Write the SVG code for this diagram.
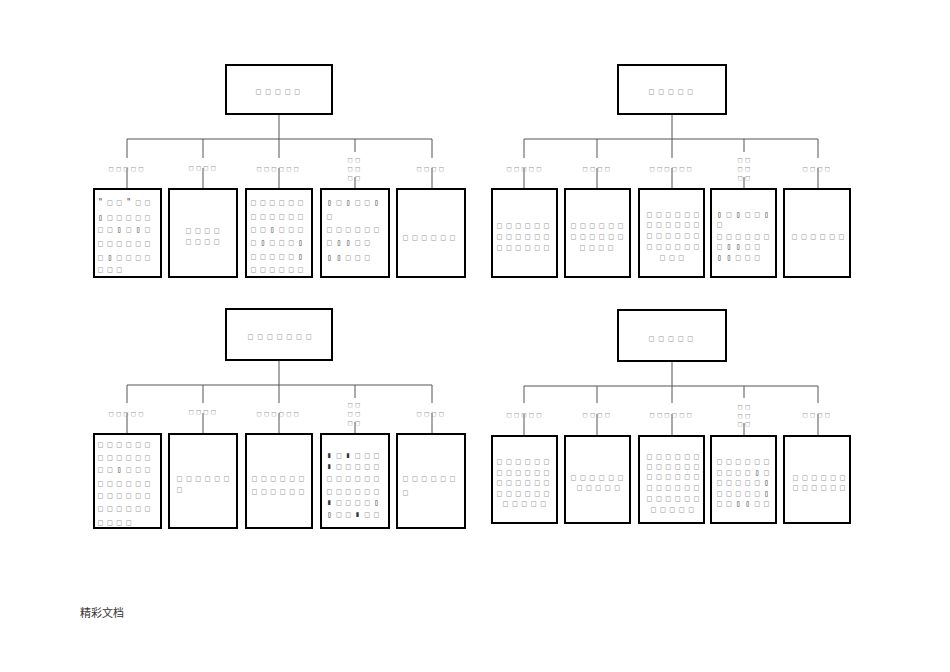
<svg xmlns="http://www.w3.org/2000/svg" width="950" height="672" viewBox="0 0 950 672">
<style>
.bx{fill:#fff;stroke:#000;stroke-width:2}
.cn line{stroke:#555;stroke-width:1}
text{font-family:"DejaVu Sans Mono","Liberation Mono",monospace;fill:#999}
.h{font-size:8px;letter-spacing:4.9px}
.l{font-size:7px;letter-spacing:3.2px}
.b{font-size:8px;letter-spacing:4.6px}
.d{fill:#333}
.f{font-family:"Noto Sans CJK SC",sans-serif;font-size:11px;fill:#333;letter-spacing:0}
</style>
<rect width="950" height="672" fill="#fff"/>
<g class="cn" id="connectors">
<line x1="279" y1="114" x2="279" y2="139"/><line x1="127" y1="139" x2="432" y2="139"/>
<line x1="127" y1="139" x2="127" y2="158"/><line x1="203" y1="139" x2="203" y2="158"/><line x1="279" y1="139" x2="279" y2="158"/><line x1="355" y1="139" x2="355" y2="152"/><line x1="432" y1="139" x2="432" y2="158"/>
<line x1="127" y1="168" x2="127" y2="189"/><line x1="203" y1="168" x2="203" y2="189"/><line x1="279" y1="168" x2="279" y2="189"/><line x1="355" y1="177" x2="355" y2="189"/><line x1="432" y1="168" x2="432" y2="189"/>
<line x1="672" y1="114" x2="672" y2="139"/><line x1="524" y1="139" x2="818" y2="139"/>
<line x1="524" y1="139" x2="524" y2="158"/><line x1="597" y1="139" x2="597" y2="158"/><line x1="672" y1="139" x2="672" y2="158"/><line x1="744" y1="139" x2="744" y2="152"/><line x1="818" y1="139" x2="818" y2="158"/>
<line x1="524" y1="168" x2="524" y2="189"/><line x1="597" y1="168" x2="597" y2="189"/><line x1="672" y1="168" x2="672" y2="189"/><line x1="744" y1="177" x2="744" y2="189"/><line x1="818" y1="168" x2="818" y2="189"/>
<line x1="279" y1="360" x2="279" y2="385"/><line x1="127" y1="385" x2="432" y2="385"/>
<line x1="127" y1="385" x2="127" y2="403"/><line x1="203" y1="385" x2="203" y2="403"/><line x1="279" y1="385" x2="279" y2="403"/><line x1="355" y1="385" x2="355" y2="398"/><line x1="432" y1="385" x2="432" y2="403"/>
<line x1="127" y1="413" x2="127" y2="434"/><line x1="203" y1="413" x2="203" y2="434"/><line x1="279" y1="413" x2="279" y2="434"/><line x1="355" y1="422" x2="355" y2="434"/><line x1="432" y1="413" x2="432" y2="434"/>
<line x1="672" y1="361" x2="672" y2="386"/><line x1="524" y1="386" x2="818" y2="386"/>
<line x1="524" y1="386" x2="524" y2="403"/><line x1="597" y1="386" x2="597" y2="403"/><line x1="672" y1="386" x2="672" y2="403"/><line x1="744" y1="386" x2="744" y2="398"/><line x1="818" y1="386" x2="818" y2="403"/>
<line x1="524" y1="414" x2="524" y2="436"/><line x1="597" y1="414" x2="597" y2="436"/><line x1="672" y1="414" x2="672" y2="436"/><line x1="744" y1="423" x2="744" y2="436"/><line x1="818" y1="414" x2="818" y2="436"/>
</g>
<g id="labels">
<text class="l" x="109" y="170.5">□□□□□</text><text class="l" x="189" y="169.5">□□□□</text><text class="l" x="257" y="170.5">□□□□□□</text>
<text class="l" x="348" y="161.5">□□</text><text class="l" x="348" y="170.5">□□</text><text class="l" x="348" y="179.5">□□</text><text class="l" x="417" y="170.5">□□□□</text>
<text class="l" x="507" y="170.5">□□□□□</text><text class="l" x="583" y="170.5">□□□□</text><text class="l" x="650" y="170.5">□□□□□□</text>
<text class="l" x="738" y="161.5">□□</text><text class="l" x="738" y="170.5">□□</text><text class="l" x="738" y="179.5">□□</text><text class="l" x="803" y="170.5">□□□□</text>
<text class="l" x="109" y="415.5">□□□□□</text><text class="l" x="189" y="413.5">□□□□</text><text class="l" x="257" y="415.5">□□□□□□</text>
<text class="l" x="348" y="406.5">□□</text><text class="l" x="348" y="415.5">□□</text><text class="l" x="348" y="424.5">□□</text><text class="l" x="417" y="415.5">□□□□</text>
<text class="l" x="507" y="417">□□□□□</text><text class="l" x="583" y="417">□□□□</text><text class="l" x="650" y="417">□□□□□□</text>
<text class="l" x="738" y="409">□□</text><text class="l" x="738" y="418">□□</text><text class="l" x="738" y="426">□□</text><text class="l" x="803" y="417">□□□□</text>
</g>
<g id="tl-root"><rect class="bx" x="226" y="65" width="106" height="49"/><text class="h" x="256" y="94">□□□□□</text></g>
<g id="tl-c1"><rect class="bx" x="94" y="189" width="67" height="88"/>
<text class="b" x="98" y="205"><tspan class="d">"</tspan>□□<tspan class="d">"</tspan>□□</text>
<text class="b" x="98" y="220"><tspan class="d">▯</tspan>□□□□□</text>
<text class="b" x="98" y="232">□□<tspan class="d">▯</tspan>□<tspan class="d">▯</tspan>□</text>
<text class="b" x="98" y="246">□□□□□□</text>
<text class="b" x="98" y="260">□<tspan class="d">▯</tspan>□□□□</text>
<text class="b" x="98" y="272">□□□</text></g>
<g id="tl-c2"><rect class="bx" x="169" y="189" width="68" height="88"/>
<text class="b" x="186" y="233">□□□□</text><text class="b" x="186" y="244">□□□□</text></g>
<g id="tl-c3"><rect class="bx" x="246" y="189" width="66" height="88"/>
<text class="b" x="251" y="205">□□□□□□</text><text class="b" x="251" y="219">□□□□□□</text>
<text class="b" x="251" y="232">□□<tspan class="d">▯</tspan>□□□</text>
<text class="b" x="251" y="245">□<tspan class="d">▯</tspan>□□□<tspan class="d">▯</tspan></text>
<text class="b" x="251" y="259">□□□□□<tspan class="d">▯</tspan></text>
<text class="b" x="251" y="272">□□□□□□</text></g>
<g id="tl-c4"><rect class="bx" x="321" y="189" width="68" height="88"/>
<text class="b" x="327" y="205"><tspan class="d">▯</tspan>□<tspan class="d">▯</tspan>□□<tspan class="d">▯</tspan></text>
<text class="b" x="327" y="219">□</text>
<text class="b" x="327" y="232">□□□□□□</text>
<text class="b" x="327" y="245">□<tspan class="d">▯▯</tspan>□□</text>
<text class="b" x="327" y="260"><tspan class="d">▯▯</tspan>□□□</text></g>
<g id="tl-c5"><rect class="bx" x="397" y="189" width="68" height="88"/>
<text class="b" x="403" y="240">□□□□□□</text></g>

<g id="tr-root"><rect class="bx" x="618" y="65" width="108" height="49"/><text class="h" x="649" y="94">□□□□□</text></g>
<g id="tr-c1"><rect class="bx" x="492" y="189" width="65" height="88"/>
<text class="b" x="497" y="228">□□□□□□</text><text class="b" x="497" y="239">□□□□□□</text><text class="b" x="497" y="250">□□□□□□</text></g>
<g id="tr-c2"><rect class="bx" x="565" y="189" width="65" height="88"/>
<text class="b" x="571" y="228">□□□□□□</text><text class="b" x="571" y="239">□□□□□□</text><text class="b" x="580" y="250">□□□□</text></g>
<g id="tr-c3"><rect class="bx" x="639" y="189" width="65" height="88"/>
<text class="b" x="647" y="217">□□□□□□</text><text class="b" x="647" y="227">□□□□□□</text><text class="b" x="647" y="238">□□□□□□</text><text class="b" x="647" y="249">□□□□□□</text><text class="b" x="660" y="260">□□□</text></g>
<g id="tr-c4"><rect class="bx" x="711" y="189" width="65" height="88"/>
<text class="b" x="717" y="217"><tspan class="d">▯</tspan>□<tspan class="d">▯</tspan>□□<tspan class="d">▯</tspan></text>
<text class="b" x="717" y="227">□</text>
<text class="b" x="717" y="239">□□□□□□</text>
<text class="b" x="717" y="249">□<tspan class="d">▯▯</tspan>□□</text>
<text class="b" x="717" y="260"><tspan class="d">▯▯</tspan>□□□</text></g>
<g id="tr-c5"><rect class="bx" x="784" y="189" width="66" height="88"/>
<text class="b" x="792" y="239">□□□□□□</text></g>

<g id="bl-root"><rect class="bx" x="226" y="309" width="106" height="51"/><text class="h" x="248" y="339">□□□□□□□</text></g>
<g id="bl-c1"><rect class="bx" x="94" y="434" width="67" height="94"/>
<text class="b" x="98" y="447">□□□□□□</text><text class="b" x="98" y="460">□□□□□□</text>
<text class="b" x="98" y="472">□□<tspan class="d">▯</tspan>□□□</text>
<text class="b" x="98" y="486">□□□□□□</text><text class="b" x="98" y="498">□□□□□□</text><text class="b" x="98" y="511">□□□□□□</text><text class="b" x="98" y="525">□□□□</text></g>
<g id="bl-c2"><rect class="bx" x="169" y="434" width="68" height="94"/>
<text class="b" x="177" y="481">□□□□□□</text><text class="b" x="177" y="492">□</text></g>
<g id="bl-c3"><rect class="bx" x="246" y="434" width="66" height="94"/>
<text class="b" x="252" y="481">□□□□□□</text><text class="b" x="252" y="494">□□□□□□</text></g>
<g id="bl-c4"><rect class="bx" x="321" y="434" width="68" height="94"/>
<text class="b" x="327" y="458"><tspan class="d">▮</tspan>□<tspan class="d">▮</tspan>□□□</text>
<text class="b" x="327" y="469"><tspan class="d">▮</tspan>□□□□□</text>
<text class="b" x="327" y="481">□□□□□□</text>
<text class="b" x="327" y="494">□□□□□□</text>
<text class="b" x="327" y="505"><tspan class="d">▮</tspan>□□□□<tspan class="d">▯</tspan></text>
<text class="b" x="327" y="517"><tspan class="d">▯</tspan>□□<tspan class="d">▮</tspan>□□</text></g>
<g id="bl-c5"><rect class="bx" x="397" y="434" width="68" height="94"/>
<text class="b" x="403" y="481">□□□□□□</text><text class="b" x="403" y="495">□</text></g>

<g id="br-root"><rect class="bx" x="618" y="310" width="108" height="51"/><text class="h" x="649" y="341">□□□□□</text></g>
<g id="br-c1"><rect class="bx" x="492" y="436" width="65" height="87"/>
<text class="b" x="497" y="464">□□□□□□</text><text class="b" x="497" y="475">□□□□□□</text><text class="b" x="497" y="485">□□□□□□</text><text class="b" x="497" y="496">□□□□□□</text><text class="b" x="503" y="506">□□□□□</text></g>
<g id="br-c2"><rect class="bx" x="565" y="436" width="65" height="87"/>
<text class="b" x="571" y="480">□□□□□□</text><text class="b" x="577" y="490">□□□□□</text></g>
<g id="br-c3"><rect class="bx" x="639" y="436" width="65" height="87"/>
<text class="b" x="647" y="459">□□□□□□</text><text class="b" x="647" y="469">□□□□□□</text><text class="b" x="647" y="479">□□□□□□</text><text class="b" x="647" y="490">□□□□□□</text><text class="b" x="647" y="501">□□□□□□</text><text class="b" x="651" y="512">□□□□□</text></g>
<g id="br-c4"><rect class="bx" x="711" y="436" width="65" height="87"/>
<text class="b" x="717" y="464">□□□□□□</text>
<text class="b" x="717" y="475">□□□□<tspan class="d">▯</tspan>□</text>
<text class="b" x="717" y="485">□□□□□<tspan class="d">▯</tspan></text>
<text class="b" x="717" y="496">□□□□□<tspan class="d">▯</tspan></text>
<text class="b" x="717" y="506">□□<tspan class="d">▯▯</tspan>□□</text></g>
<g id="br-c5"><rect class="bx" x="784" y="436" width="66" height="87"/>
<text class="b" x="793" y="480">□□□□□□</text><text class="b" x="793" y="490">□□□□□□</text></g>

<text class="f" x="80" y="617">精彩文档</text>
</svg>
